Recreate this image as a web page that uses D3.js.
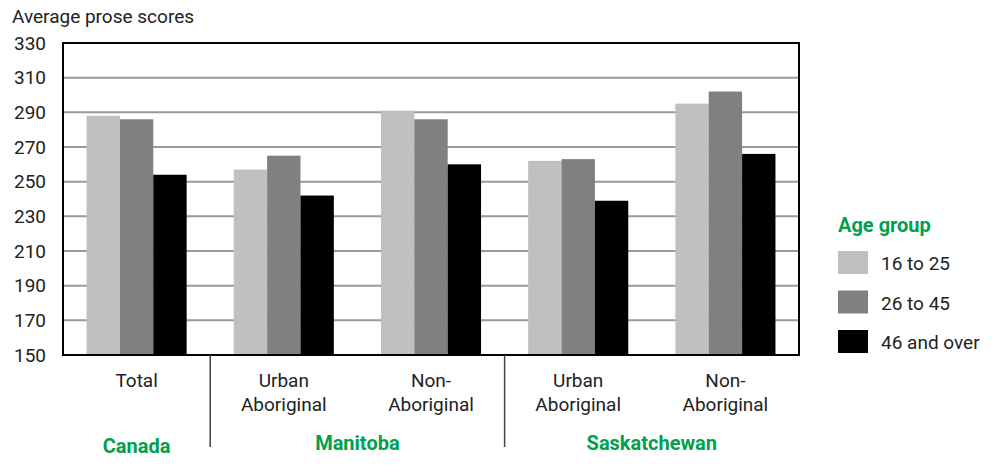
<!DOCTYPE html>
<html>
<head>
<meta charset="utf-8">
<script src="https://cdn.jsdelivr.net/npm/d3@7"></script>
<style>
  body { margin: 0; background: #fff; }
  svg text { font-family: Roboto, "Liberation Sans", Arial, sans-serif; }
</style>
</head>
<body>
<svg class="chart"></svg>
<script>
const width = 998;
const height = 466;

// data
const categories = ['Total', 'Urban Aboriginal', 'Non-Aboriginal', 'Urban Aboriginal', 'Non-Aboriginal'];
const categoryLines = [['Total'], ['Urban', 'Aboriginal'], ['Non-', 'Aboriginal'], ['Urban', 'Aboriginal'], ['Non-', 'Aboriginal']];
const regions = ['Canada', 'Manitoba', 'Saskatchewan'];
const regionSpans = [[0, 0], [1, 2], [3, 4]];
const ageGroups = ['16 to 25', '26 to 45', '46 and over'];
const age16to25 = [288, 257, 291, 262, 295];
const age26to45 = [286, 265, 286, 263, 302];
const age46plus = [254, 242, 260, 239, 266];
const yTicks = [150, 170, 190, 210, 230, 250, 270, 290, 310, 330];

const series = [age16to25, age26to45, age46plus];
const colors = ['#c0c0c0', '#808080', '#000000'];
const green = '#00a04e';

const margin = { top: 43, right: 199, bottom: 111, left: 63 };

const chart = d3.select('.chart')
    .attr('width', width)
    .attr('height', height);

const xScale = d3.scaleBand()
    .domain(d3.range(categories.length))
    .range([margin.left, width - margin.right])
    .paddingInner(0.32)
    .paddingOuter(0.16);

const xSub = d3.scaleBand()
    .domain(d3.range(series.length))
    .range([0, xScale.bandwidth()]);

const yScale = d3.scaleLinear()
    .domain([150, 330])
    .range([height - margin.bottom, margin.top]);

const step = xScale.step();
const plotLeft = margin.left;
const plotRight = width - margin.right;
const plotBottom = height - margin.bottom;

// grid lines
chart.append('g')
    .selectAll('line')
    .data(yTicks.slice(1, -1))
    .enter()
    .append('line')
    .attr('x1', plotLeft)
    .attr('x2', plotRight)
    .attr('y1', d => yScale(d))
    .attr('y2', d => yScale(d))
    .attr('stroke', '#9a9a9a')
    .attr('stroke-width', 2);

// bars
series.forEach((values, s) => {
    chart.append('g')
        .selectAll('rect')
        .data(values)
        .enter()
        .append('rect')
        .attr('x', (d, i) => xScale(i) + xSub(s))
        .attr('y', d => yScale(d))
        .attr('width', xSub.bandwidth())
        .attr('height', d => plotBottom - yScale(d))
        .attr('fill', colors[s]);
});

// frame
chart.append('rect')
    .attr('x', plotLeft)
    .attr('y', margin.top)
    .attr('width', plotRight - plotLeft)
    .attr('height', plotBottom - margin.top)
    .attr('fill', 'none')
    .attr('stroke', '#000')
    .attr('stroke-width', 2);

// y axis labels
const yAxis = d3.axisLeft(yScale).tickValues(yTicks).tickSize(0).tickPadding(17);
const yG = chart.append('g')
    .attr('transform', `translate(${plotLeft}, 0)`)
    .call(yAxis);
yG.select('.domain').remove();
yG.selectAll('text')
    .attr('font-size', 19)
    .attr('fill', '#222')
    .style('font-family', 'Roboto, Arial, sans-serif');

chart.append('text')
    .attr('x', 12)
    .attr('y', 23)
    .attr('font-size', 19)
    .attr('fill', '#222')
    .text('Average prose scores');

// category labels
categoryLines.forEach((lines, i) => {
    const t = chart.append('text')
        .attr('text-anchor', 'middle')
        .attr('font-size', 19)
        .attr('fill', '#222');
    lines.forEach((line, j) => {
        t.append('tspan')
            .attr('x', xScale(i) + xScale.bandwidth() / 2)
            .attr('y', plotBottom + 32 + j * 24)
            .text(line);
    });
});

// separators between regions
regionSpans.slice(1).forEach(span => {
    const x = xScale(span[0]) - step * xScale.paddingInner() / 2;
    chart.append('line')
        .attr('x1', x).attr('x2', x)
        .attr('y1', plotBottom)
        .attr('y2', plotBottom + 92)
        .attr('stroke', '#444')
        .attr('stroke-width', 1.5);
});

// region labels
regions.forEach((r, k) => {
    const [a, b] = regionSpans[k];
    const cx = (xScale(a) + xScale(b) + xScale.bandwidth()) / 2;
    chart.append('text')
        .attr('x', cx)
        .attr('y', k === 0 ? plotBottom + 98 : plotBottom + 95)
        .attr('text-anchor', 'middle')
        .attr('font-size', 20)
        .attr('font-weight', 'bold')
        .attr('fill', green)
        .text(r);
});

// legend
const legend = chart.append('g').attr('transform', 'translate(838, 0)');
legend.append('text')
    .attr('x', 0)
    .attr('y', 232)
    .attr('font-size', 20)
    .attr('font-weight', 'bold')
    .attr('fill', green)
    .text('Age group');
ageGroups.forEach((g, i) => {
    legend.append('rect')
        .attr('x', 0)
        .attr('y', 251 + i * 39.5)
        .attr('width', 30)
        .attr('height', 23)
        .attr('fill', colors[i]);
    legend.append('text')
        .attr('x', 43)
        .attr('y', 270 + i * 39.5)
        .attr('font-size', 19)
        .attr('fill', '#222')
        .text(g);
});
</script>
</body>
</html>
